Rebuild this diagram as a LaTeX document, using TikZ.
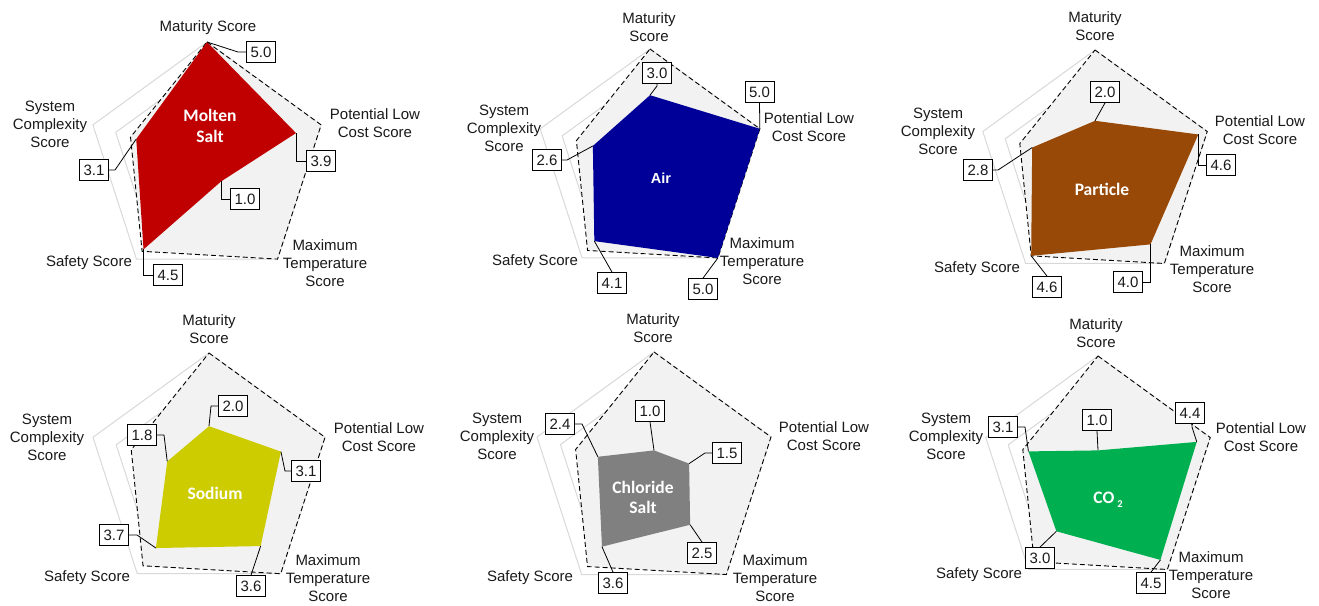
\documentclass[tikz,border=0pt]{standalone}
\usepackage{fontspec}
\setmainfont{Liberation Sans}
\newfontfamily\calib{Carlito}
\usetikzlibrary{calc}
\definecolor{gridc}{HTML}{D9D9D9}
\definecolor{envc}{HTML}{F2F2F2}
\definecolor{txtc}{HTML}{1A1A1A}
\definecolor{colA}{HTML}{C00000}
\definecolor{colB}{HTML}{000099}
\definecolor{colC}{HTML}{984807}
\definecolor{colD}{HTML}{CCCC00}
\definecolor{colE}{HTML}{808080}
\definecolor{colF}{HTML}{00B050}
\tikzset{
  gridline/.style={draw=gridc, line width=1pt},
  envelope/.style={draw=black, fill=envc, dash pattern=on 5pt off 3pt, line width=0.9pt, line join=miter},
  leader/.style={draw=black, line width=0.8pt},
  valbox/.style={draw=black, fill=white, line width=0.8pt, minimum width=29pt, minimum height=21pt, inner sep=0pt, text=txtc, font=\fontsize{15}{17}\selectfont},
  axlabel/.style={align=center, text=txtc, inner sep=0pt, font=\fontsize{15}{18}\selectfont},
  serieslabel/.style={align=center, text=white, inner sep=0pt, font=\calib\bfseries\fontsize{17.5}{20.5}\selectfont},
  serieslabelsans/.style={align=center, text=white, inner sep=0pt, font=\bfseries\fontsize{14.5}{17}\selectfont}
}
\newcommand\radarchart[9]{%
  \begin{scope}[shift={(#2,#3)}]
    \pgfmathsetmacro\rr{#4/5}
    \foreach \lv in {1,...,5}{%
      \draw[gridline] (-90:{\lv*\rr}) -- (-18:{\lv*\rr}) -- (54:{\lv*\rr}) -- (126:{\lv*\rr}) -- (198:{\lv*\rr}) -- cycle;}
    \draw[envelope] (-90:{5*\rr}) -- (-18:{5*\rr}) -- (54:{5*\rr}) -- (126:{4.6*\rr}) -- (198:{3.35*\rr}) -- cycle;
    \coordinate (#1-m) at (-90:{#5*\rr});
    \coordinate (#1-lc) at (-18:{#6*\rr});
    \coordinate (#1-mt) at (54:{#7*\rr});
    \coordinate (#1-s) at (126:{#8*\rr});
    \coordinate (#1-sc) at (198:{#9*\rr});
    \fill[col#1] (#1-m) -- (#1-lc) -- (#1-mt) -- (#1-s) -- (#1-sc) -- cycle;
  \end{scope}}
\begin{document}
\begin{tikzpicture}[x=1pt,y=-1pt]
\fill[white] (0,0) rectangle (1319,605);
\useasboundingbox (0,0) rectangle (1319,605);

% ---------- polygons ----------
\radarchart{A}{207}{162}{120}{5.0}{3.9}{1.0}{4.5}{3.1}
\radarchart{B}{650}{164.5}{115.5}{3.0}{5.0}{5.0}{4.1}{2.6}
\radarchart{C}{1095}{168}{118}{2.0}{4.6}{4.0}{4.6}{2.8}
\radarchart{D}{209}{475}{122}{2.0}{3.1}{3.6}{3.7}{1.8}
\radarchart{E}{654}{475}{123}{1.0}{1.5}{2.5}{3.6}{2.4}
\radarchart{F}{1098}{474}{118}{1.0}{4.4}{4.5}{3.0}{3.1}

% ---------- series labels ----------
\node[serieslabel] (tA) at (210,126) {Molten\\Salt};
\node[serieslabelsans] (tB) at (661,178) {Air};
\node[serieslabel] (tC) at (1102,189) {Particle};
\node[serieslabel] (tD) at (215,493) {Sodium};
\node[serieslabel] (tE) at (643,497.5) {Chloride\\Salt};
\node[serieslabel] (tF) at (1108,500) {CO\,\raisebox{-0.45ex}{\fontsize{10.5}{10.5}\selectfont 2}};

% ---------- leader bends ----------
\coordinate (Ak-m) at (238,52);
\coordinate (Ak-sc) at (115,170);
\coordinate (Bk-m) at (657,86);
\coordinate (Bk-sc) at (567,160);
\coordinate (Ck-sc) at (998,170);
\coordinate (Dk-m) at (211,406);
\coordinate (Dk-sc) at (164,435);
\coordinate (Dk-lc) at (285,471);
\coordinate (Dk-s) at (137,535);
\coordinate (Ek-lc) at (705,453);
\coordinate (Ek-sc) at (582,424);
\coordinate (Fk-lc) at (1192,427);
\coordinate (Fk-sc) at (1025,427);

% ---------- value boxes ----------
\path
  (261,52) node[valbox] (bA-m) {5.0}
  (321,161) node[valbox] (bA-lc) {3.9}
  (245,199) node[valbox] (bA-mt) {1.0}
  (168,275) node[valbox] (bA-s) {4.5}
  (94,170) node[valbox] (bA-sc) {3.1}
  (657,73) node[valbox] (bB-m) {3.0}
  (759.5,92) node[valbox] (bB-lc) {5.0}
  (547,160) node[valbox] (bB-sc) {2.6}
  (612,283) node[valbox] (bB-s) {4.1}
  (703,289) node[valbox] (bB-mt) {5.0}
  (1105,92) node[valbox] (bC-m) {2.0}
  (1221,165) node[valbox] (bC-lc) {4.6}
  (978,170) node[valbox] (bC-sc) {2.8}
  (1047,287) node[valbox] (bC-s) {4.6}
  (1128,282) node[valbox] (bC-mt) {4.0}
  (233,406) node[valbox] (bD-m) {2.0}
  (142,435) node[valbox] (bD-sc) {1.8}
  (306,471) node[valbox] (bD-lc) {3.1}
  (114,535) node[valbox] (bD-s) {3.7}
  (251,586) node[valbox] (bD-mt) {3.6}
  (650,411) node[valbox] (bE-m) {1.0}
  (727,453) node[valbox] (bE-lc) {1.5}
  (560,424) node[valbox] (bE-sc) {2.4}
  (702,553) node[valbox] (bE-mt) {2.5}
  (613,583) node[valbox] (bE-s) {3.6}
  (1097,420) node[valbox] (bF-m) {1.0}
  (1190,413) node[valbox] (bF-lc) {4.4}
  (1003,427) node[valbox] (bF-sc) {3.1}
  (1040,558) node[valbox] (bF-s) {3.0}
  (1151,583) node[valbox] (bF-mt) {4.5};

% ---------- leaders ----------
\draw[leader] (A-m) -- (Ak-m) -- (bA-m.west);
\draw[leader] (A-lc) |- (bA-lc.west);
\draw[leader] (A-mt) |- (bA-mt.west);
\draw[leader] (A-s) |- (bA-s.west);
\draw[leader] (A-sc) -- (Ak-sc) -- (bA-sc.east);
\draw[leader] (B-m) -- (Bk-m) -- (bB-m.south);
\draw[leader] (B-lc) -- (bB-lc.south);
\draw[leader] (B-sc) -- (Bk-sc) -- (bB-sc.east);
\draw[leader] (B-s) -- (bB-s.north);
\draw[leader] (B-mt) -- (bB-mt.north);
\draw[leader] (C-m) -- (bC-m.south);
\draw[leader] (C-lc) |- (bC-lc.west);
\draw[leader] (C-sc) -- (Ck-sc) -- (bC-sc.east);
\draw[leader] (C-s) -- (bC-s.north);
\draw[leader] (C-mt) |- (bC-mt.east);
\draw[leader] (D-m) -- (Dk-m) -- (bD-m.west);
\draw[leader] (D-sc) -- (Dk-sc) -- (bD-sc.east);
\draw[leader] (D-lc) -- (Dk-lc) -- (bD-lc.west);
\draw[leader] (D-s) -- (Dk-s) -- (bD-s.east);
\draw[leader] (D-mt) -- (bD-mt.north);
\draw[leader] (E-m) -- (bE-m.south);
\draw[leader] (E-lc) -- (Ek-lc) -- (bE-lc.west);
\draw[leader] (E-sc) -- (Ek-sc) -- (bE-sc.east);
\draw[leader] (E-mt) -- (bE-mt.north);
\draw[leader] (E-s) -- (bE-s.north);
\draw[leader] (F-m) -- (bF-m.south);
\draw[leader] (F-lc) -- (Fk-lc) -- (Fk-lc |- bF-lc.south);
\draw[leader] (F-sc) -- (Fk-sc) -- (bF-sc.east);
\draw[leader] (F-s) -- (bF-s.north);
\draw[leader] (F-mt) -- (bF-mt.north);

% ---------- axis labels ----------
\node[axlabel] (aA-m) at (208,28) {Maturity Score};
\node[axlabel] (aA-sc) at (50,124) {System\\Complexity\\Score};
\node[axlabel] (aA-lc) at (375,123) {Potential Low\\Cost Score};
\node[axlabel] (aA-mt) at (325,263) {Maximum\\Temperature\\Score};
\node[axlabel] (aA-s) at (89,263) {Safety Score};

\node[axlabel] (aB-m) at (649,27.5) {Maturity\\Score};
\node[axlabel] (aB-sc) at (504,128) {System\\Complexity\\Score};
\node[axlabel] (aB-lc) at (809,127) {Potential Low\\Cost Score};
\node[axlabel] (aB-mt) at (762,261) {Maximum\\Temperature\\Score};
\node[axlabel] (aB-s) at (535,262) {Safety Score};

\node[axlabel] (aC-m) at (1095,26) {Maturity\\Score};
\node[axlabel] (aC-sc) at (938,131) {System\\Complexity\\Score};
\node[axlabel] (aC-lc) at (1260,130) {Potential Low\\Cost Score};
\node[axlabel] (aC-mt) at (1212,269) {Maximum\\Temperature\\Score};
\node[axlabel] (aC-s) at (977,269) {Safety Score};

\node[axlabel] (aD-m) at (209,329.5) {Maturity\\Score};
\node[axlabel] (aD-sc) at (47,437) {System\\Complexity\\Score};
\node[axlabel] (aD-lc) at (379,437) {Potential Low\\Cost Score};
\node[axlabel] (aD-mt) at (328,578) {Maximum\\Temperature\\Score};
\node[axlabel] (aD-s) at (87,578) {Safety Score};

\node[axlabel] (aE-m) at (653,328) {Maturity\\Score};
\node[axlabel] (aE-sc) at (497,436) {System\\Complexity\\Score};
\node[axlabel] (aE-lc) at (824,436) {Potential Low\\Cost Score};
\node[axlabel] (aE-mt) at (775,578) {Maximum\\Temperature\\Score};
\node[axlabel] (aE-s) at (530,578) {Safety Score};

\node[axlabel] (aF-m) at (1096,333) {Maturity\\Score};
\node[axlabel] (aF-sc) at (946,436) {System\\Complexity\\Score};
\node[axlabel] (aF-lc) at (1261,437) {Potential Low\\Cost Score};
\node[axlabel] (aF-mt) at (1211,575) {Maximum\\Temperature\\Score};
\node[axlabel] (aF-s) at (979,575) {Safety Score};
\end{tikzpicture}
\end{document}
